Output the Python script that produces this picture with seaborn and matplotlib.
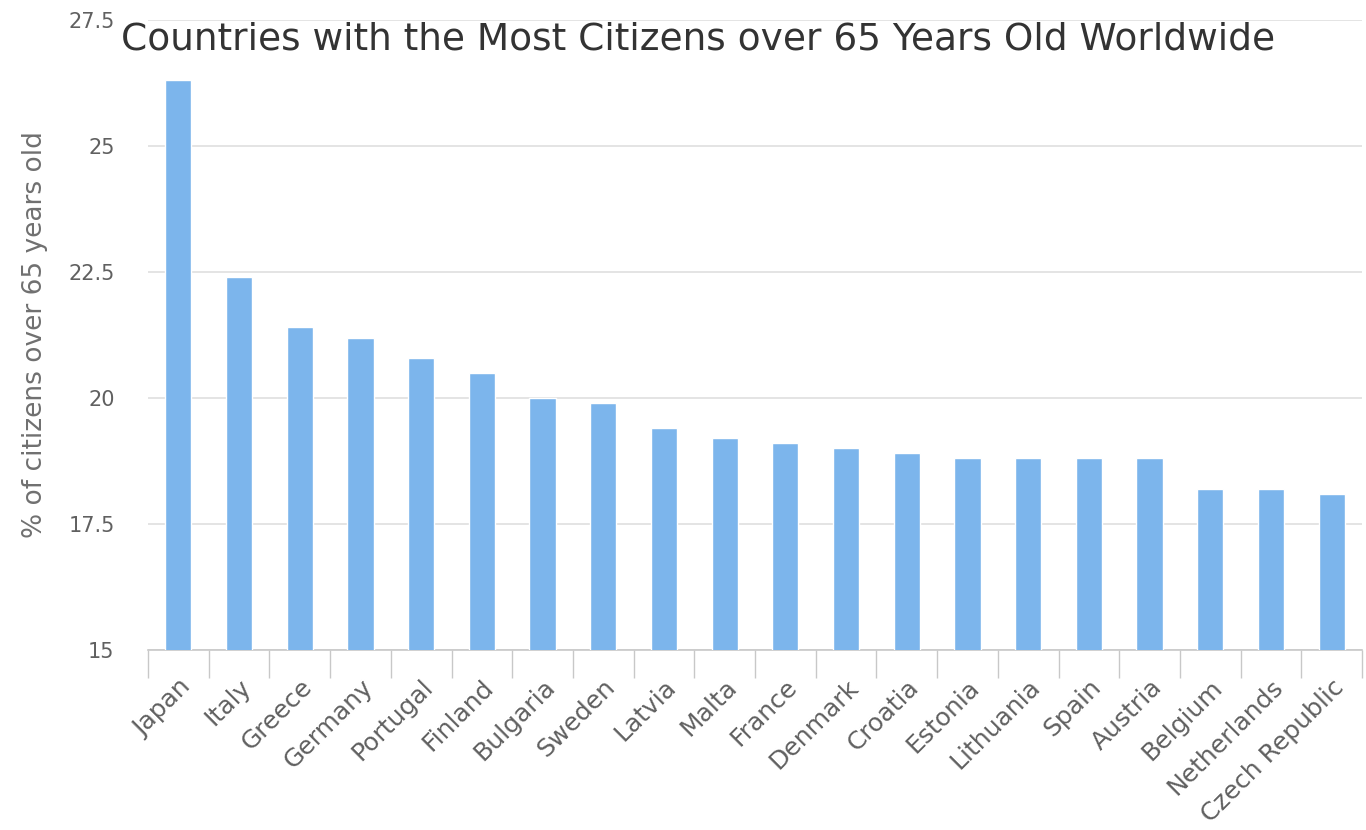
import matplotlib
matplotlib.use("Agg")
import matplotlib.pyplot as plt
import seaborn as sns
import pandas as pd
import numpy as np

countries = ["Japan", "Italy", "Greece", "Germany", "Portugal", "Finland",
             "Bulgaria", "Sweden", "Latvia", "Malta", "France", "Denmark",
             "Croatia", "Estonia", "Lithuania", "Spain", "Austria", "Belgium",
             "Netherlands", "Czech Republic"]
pct_over_65 = [26.3, 22.4, 21.4, 21.2, 20.8, 20.5, 20.0, 19.9, 19.4, 19.2,
               19.1, 19.0, 18.9, 18.8, 18.8, 18.8, 18.8, 18.2, 18.2, 18.1]
y_ticks = [15, 17.5, 20, 22.5, 25, 27.5]
y_tick_labels = ["15", "17.5", "20", "22.5", "25", "27.5"]

df = pd.DataFrame({"country": countries, "pct": pct_over_65})

sns.set_theme(style="white")
plt.rcParams["font.family"] = ["DejaVu Sans"]

fig = plt.figure(figsize=(13.66, 8.30), dpi=100)
ax = fig.add_axes([148 / 1366, 1 - 650 / 830, (1362 - 148) / 1366, (650 - 20) / 830])

sns.barplot(data=df, x="country", y="pct", color="#7cb5ec", saturation=1,
            width=0.43, ax=ax, zorder=3)

ax.set_ylim(15, 27.5)
ax.set_xlim(-0.5, len(countries) - 0.5)
ax.set_yticks(y_ticks)
ax.set_yticklabels(y_tick_labels, color="#606060", fontsize=15)
ax.tick_params(axis="y", length=0, pad=24)
ax.yaxis.grid(True, color="#dcdcdc", linewidth=1.1, zorder=0)
ax.set_axisbelow(True)

# category labels rotated, with tick marks on the category boundaries
ax.set_xticks(range(len(countries)))
ax.set_xticklabels(countries, rotation=45, ha="right", va="top",
                   rotation_mode="anchor", color="#606060", fontsize=18)
ax.tick_params(axis="x", which="major", length=0, pad=18)
ax.set_xticks(np.arange(-0.5, len(countries), 1.0), minor=True)
ax.tick_params(axis="x", which="minor", length=20, width=1, color="#c8c8c8",
               bottom=True)

for side in ["top", "right", "left"]:
    ax.spines[side].set_visible(False)
ax.spines["bottom"].set_color("#c8c8c8")
ax.spines["bottom"].set_linewidth(1.2)

ax.set_xlabel("")
ax.set_ylabel("% of citizens over 65 years old", color="#707070", fontsize=19)
ax.yaxis.set_label_coords(-0.0825, 0.5)

fig.text(698 / 1366, 1 - 40 / 830,
         "Countries with the Most Citizens over 65 Years Old Worldwide",
         ha="center", va="center", fontsize=27, color="#333333")

fig.savefig("out.png", dpi=100)
